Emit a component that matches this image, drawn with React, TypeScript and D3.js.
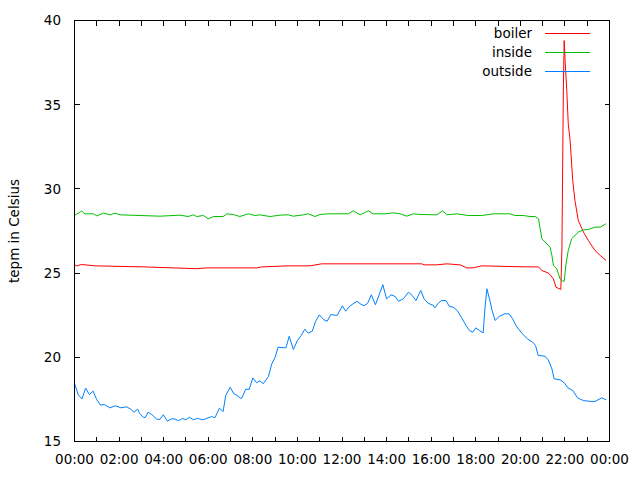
import React from "react";
import * as d3 from "d3";

// readings, "HH:MM" and degrees
const boilerTimes = ["00:00", "00:06", "00:19", "00:55", "03:05", "04:26", "05:29", "05:56", "08:10", "08:24", "09:35", "10:34", "11:05", "15:35", "15:41", "16:15", "16:42", "17:18", "17:36", "17:53", "18:16", "20:17", "20:49", "20:58", "21:16", "21:29", "21:36", "21:49", "21:52", "21:54", "21:56", "21:58", "22:01", "22:05", "22:09", "22:14", "22:21", "22:27", "22:36", "22:50", "23:03", "23:21", "23:35", "23:51"];
const boilerTemps = [25.49, 25.43, 25.51, 25.43, 25.37, 25.31, 25.26, 25.31, 25.31, 25.37, 25.43, 25.43, 25.55, 25.55, 25.49, 25.49, 25.55, 25.49, 25.31, 25.31, 25.43, 25.37, 25.37, 25.15, 25.0, 24.66, 24.16, 24.03, 26.54, 31.49, 36.24, 38.81, 37.43, 35.84, 33.87, 32.87, 30.5, 29.31, 28.12, 27.43, 26.94, 26.34, 26.05, 25.75];

const insideTimes = ["00:00", "00:19", "00:28", "00:51", "01:00", "01:18", "01:36", "01:49", "02:03", "03:50", "04:44", "05:06", "05:20", "05:29", "05:47", "06:00", "06:14", "06:40", "06:50", "07:07", "07:25", "07:48", "08:06", "08:19", "08:46", "09:13", "09:35", "09:49", "10:16", "10:29", "10:47", "11:01", "11:23", "12:17", "12:30", "12:49", "13:11", "13:24", "13:56", "14:18", "14:36", "14:54", "15:12", "15:30", "16:15", "16:31", "16:42", "17:09", "17:40", "18:16", "18:47", "19:32", "19:46", "20:08", "20:26", "20:40", "20:49", "20:58", "21:20", "21:25", "21:29", "21:38", "21:47", "21:53", "21:58", "22:03", "22:09", "22:18", "22:36", "22:50", "23:03", "23:21", "23:35", "23:51"];
const insideTemps = [28.42, 28.68, 28.52, 28.52, 28.4, 28.56, 28.46, 28.56, 28.46, 28.38, 28.44, 28.36, 28.46, 28.36, 28.42, 28.22, 28.36, 28.36, 28.52, 28.48, 28.36, 28.52, 28.42, 28.46, 28.36, 28.44, 28.46, 28.38, 28.46, 28.52, 28.36, 28.48, 28.52, 28.52, 28.7, 28.46, 28.7, 28.52, 28.52, 28.58, 28.52, 28.38, 28.52, 28.48, 28.46, 28.7, 28.46, 28.52, 28.42, 28.42, 28.52, 28.52, 28.42, 28.42, 28.36, 28.36, 28.22, 27.04, 26.54, 26.05, 25.45, 25.26, 24.66, 24.52, 24.52, 25.55, 26.34, 27.04, 27.43, 27.57, 27.59, 27.73, 27.73, 27.93];

const outsideTimes = ["00:00", "00:10", "00:20", "00:30", "00:40", "00:50", "01:00", "01:10", "01:20", "01:35", "01:50", "02:05", "02:20", "02:30", "02:40", "02:50", "02:55", "03:05", "03:10", "03:18", "03:28", "03:41", "03:50", "03:59", "04:10", "04:22", "04:31", "04:40", "04:51", "05:00", "05:09", "05:20", "05:31", "05:45", "05:56", "06:09", "06:18", "06:30", "06:40", "06:47", "06:59", "07:09", "07:17", "07:25", "07:30", "07:41", "07:50", "08:00", "08:10", "08:19", "08:28", "08:42", "08:51", "09:00", "09:08", "09:29", "09:38", "09:49", "10:00", "10:10", "10:20", "10:29", "10:40", "10:49", "10:59", "11:11", "11:20", "11:30", "11:47", "12:01", "12:10", "12:20", "12:30", "12:40", "12:49", "12:59", "13:09", "13:19", "13:30", "13:40", "13:50", "14:00", "14:12", "14:23", "14:32", "14:45", "14:59", "15:09", "15:19", "15:32", "15:41", "15:52", "16:06", "16:10", "16:19", "16:28", "16:40", "16:49", "16:59", "17:10", "17:22", "17:34", "17:43", "17:52", "18:00", "18:10", "18:20", "18:25", "18:30", "18:37", "18:44", "18:52", "19:03", "19:17", "19:30", "19:39", "19:50", "20:04", "20:19", "20:33", "20:41", "20:48", "21:06", "21:15", "21:25", "21:31", "21:47", "21:58", "22:08", "22:21", "22:34", "22:50", "23:08", "23:21", "23:39", "23:51"];
const outsideTemps = [18.46, 17.77, 17.53, 18.17, 17.79, 17.99, 17.48, 17.16, 17.2, 17.0, 17.12, 17.0, 17.06, 16.94, 16.74, 16.92, 16.68, 16.44, 16.41, 16.74, 16.6, 16.33, 16.31, 16.59, 16.21, 16.35, 16.33, 16.23, 16.37, 16.29, 16.44, 16.29, 16.37, 16.29, 16.37, 16.48, 16.41, 16.98, 16.78, 17.73, 18.22, 17.83, 17.75, 17.59, 17.57, 18.11, 18.09, 18.78, 18.49, 18.6, 18.43, 18.86, 19.61, 20.0, 20.6, 20.56, 21.25, 20.46, 21.0, 21.29, 21.67, 21.43, 21.55, 22.14, 22.52, 22.23, 22.14, 22.54, 22.48, 23.06, 22.74, 23.02, 23.18, 23.33, 23.18, 23.06, 23.21, 23.71, 23.12, 23.71, 24.31, 23.47, 23.71, 23.61, 23.33, 23.47, 23.87, 23.67, 23.37, 23.97, 23.47, 23.21, 23.08, 22.94, 23.21, 23.37, 23.37, 23.02, 22.98, 22.78, 22.35, 21.89, 21.59, 21.49, 21.75, 21.59, 21.45, 22.98, 24.07, 23.47, 22.78, 22.19, 22.42, 22.58, 22.58, 22.29, 21.83, 21.43, 21.1, 20.9, 20.7, 20.11, 20.07, 19.85, 19.31, 18.72, 18.66, 18.49, 18.19, 18.03, 17.59, 17.43, 17.38, 17.38, 17.59, 17.48];

const xTickLabels = ["00:00", "02:00", "04:00", "06:00", "08:00", "10:00", "12:00", "14:00", "16:00", "18:00", "20:00", "22:00", "00:00"];
const yTicks = [15, 20, 25, 30, 35, 40];

const series = [
  { name: "boiler", color: "#ff0000", times: boilerTimes, temps: boilerTemps },
  { name: "inside", color: "#00c000", times: insideTimes, temps: insideTemps },
  { name: "outside", color: "#0080ff", times: outsideTimes, temps: outsideTemps },
];

const toHours = (s: string) => {
  const [h, m] = s.split(":").map(Number);
  return h + m / 60;
};

const font = "'DejaVu Sans', sans-serif";

export default function App() {
  const left = 74.5, right = 609.5, top = 20.5, bottom = 441.5;
  const x = d3.scaleLinear().domain([0, 24]).range([left, right]);
  const y = d3.scaleLinear().domain([15, 40]).range([bottom, top]);
  const tick = 5;

  const line = d3
    .line<[number, number]>()
    .x((d) => x(d[0]))
    .y((d) => y(d[1]));

  const hours = d3.range(1, 24);

  return (
    <svg
      width={640}
      height={480}
      style={{ position: "absolute", left: 0, top: 0, background: "#fff" }}
      fontFamily={font}
      fontSize={13.5}
    >
      <rect width={640} height={480} fill="#fff" />

      {/* ticks, mirrored on all four sides */}
      <g stroke="#000" strokeWidth={1} shapeRendering="crispEdges">
        {hours.map((h) => (
          <g key={h}>
            <line x1={x(h)} x2={x(h)} y1={bottom} y2={bottom - tick} />
            <line x1={x(h)} x2={x(h)} y1={top} y2={top + tick} />
          </g>
        ))}
        {yTicks.slice(1, -1).map((v) => (
          <g key={v}>
            <line x1={left} x2={left + tick} y1={y(v)} y2={y(v)} />
            <line x1={right} x2={right - tick} y1={y(v)} y2={y(v)} />
          </g>
        ))}
      </g>

      {/* y labels */}
      {yTicks.map((v) => (
        <text key={v} x={61} y={y(v)} dy="0.36em" textAnchor="end" fill="#000">
          {v}
        </text>
      ))}

      {/* x labels */}
      {xTickLabels.map((t, i) => (
        <text key={i} x={x(i * 2)} y={464} textAnchor="middle" fill="#000">
          {t}
        </text>
      ))}

      <text
        transform={`translate(18.5, ${(top + bottom) / 2}) rotate(-90)`}
        textAnchor="middle"
        fill="#000"
      >
        tepm in Celsius
      </text>

      {/* data */}
      {series.map((s) => (
        <path
          key={s.name}
          d={line(s.times.map((t, i) => [toHours(t), s.temps[i]] as [number, number])) || ""}
          fill="none"
          stroke={s.color}
          strokeWidth={1}
        />
      ))}

      {/* key */}
      {series.map((s, i) => (
        <g key={s.name}>
          <text x={532} y={38 + i * 19} textAnchor="end" fill="#000">
            {s.name}
          </text>
          <line
            x1={545}
            x2={590}
            y1={33.5 + i * 19}
            y2={33.5 + i * 19}
            stroke={s.color}
            shapeRendering="crispEdges"
          />
        </g>
      ))}

      <rect
        x={left}
        y={top}
        width={right - left}
        height={bottom - top}
        fill="none"
        stroke="#000"
        shapeRendering="crispEdges"
      />
    </svg>
  );
}
